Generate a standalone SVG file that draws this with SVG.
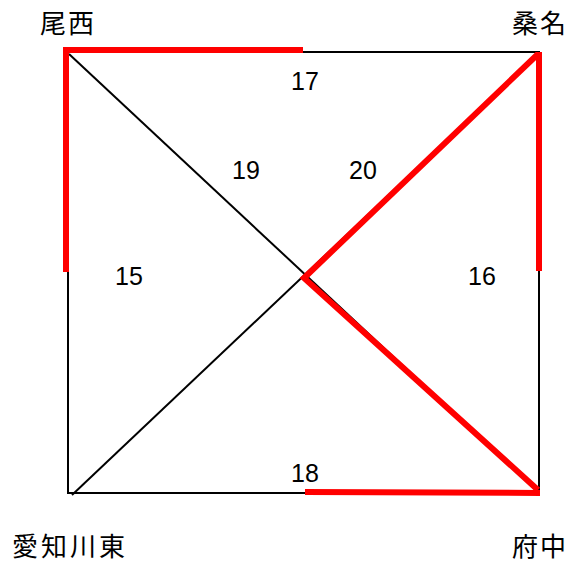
<svg xmlns="http://www.w3.org/2000/svg" width="573" height="562" viewBox="0 0 573 562">
<style>
.blk{stroke:#000;stroke-width:2;fill:none}
.red{stroke:#ff0000;stroke-width:6;fill:none;stroke-linecap:butt}
.st{font-family:"Noto Sans CJK JP","Noto Sans CJK SC",sans-serif;font-size:26px;fill:#000;letter-spacing:2px}
.num{font-family:"Liberation Sans",Arial,sans-serif;font-size:25px;fill:#000}
</style>
<rect width="573" height="562" fill="#fff"/>
<g id="connectors">
<path class="blk" d="M68 52 H539 V493 H68 Z"/>
<line class="blk" x1="69" y1="54" x2="538" y2="492"/>
<line class="blk" x1="72" y1="495" x2="538" y2="54"/>
<path class="red" d="M66 272 V50 H303"/>
<line class="red" x1="539" y1="52" x2="539" y2="271"/>
<path class="red" d="M538 54 L304 278 L538 490"/>
<line class="red" x1="305" y1="492" x2="540" y2="493"/>
</g>
<g id="labels">
<text class="num" x="291" y="90">17</text>
<text class="num" x="232" y="179">19</text>
<text class="num" x="349" y="179">20</text>
<text class="num" x="115" y="285">15</text>
<text class="num" x="468" y="285">16</text>
<text class="num" x="291" y="482">18</text>
</g>
<g id="node-bisai"><text class="st" x="40" y="33">尾西</text></g>
<g id="node-kuwana"><text class="st" x="512" y="33">桑名</text></g>
<g id="node-echigawahigashi"><text class="st" x="12" y="556" style="letter-spacing:3px">愛知川東</text></g>
<g id="node-fuchu"><text class="st" x="512" y="556">府中</text></g>
</svg>
